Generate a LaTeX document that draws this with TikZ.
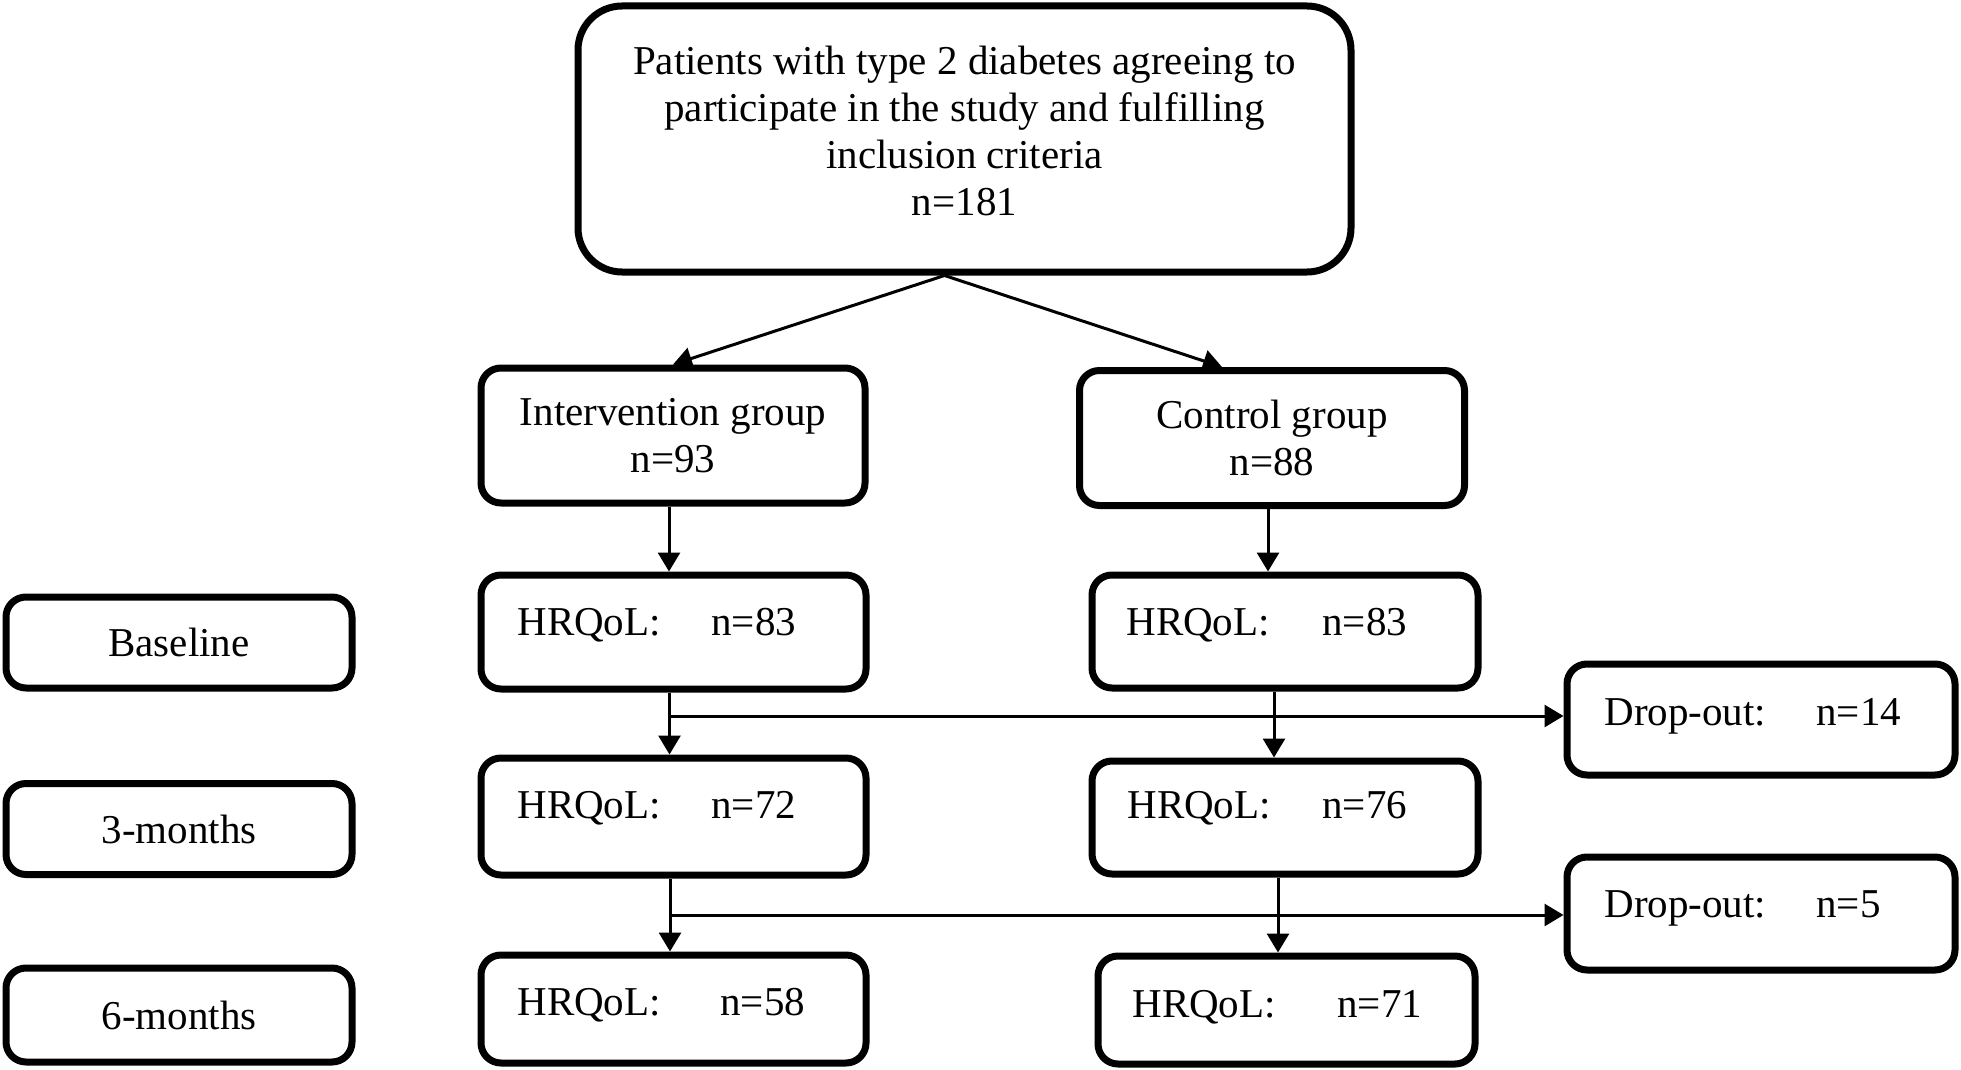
\documentclass[tikz,border=0pt]{standalone}
\usepackage{fontspec}
\setmainfont{Liberation Serif}
\usetikzlibrary{arrows.meta}
\begin{document}
\begin{tikzpicture}[x=0.5pt,y=-0.5pt,
  box/.style={draw, line width=3.5pt, rounded corners=10pt, inner sep=0pt, align=center, font=\fontsize{20.5}{23.5}\selectfont},
  txt/.style={inner sep=0pt, anchor=base west, font=\fontsize{20.5}{23.5}\selectfont},
  ctxt/.style={inner sep=0pt, align=center, font=\fontsize{20.5}{23.5}\selectfont},
  arr/.style={line width=1.5pt, -{Triangle[length=9.5pt,width=11pt]}},
  ln/.style={line width=1.5pt}]
\useasboundingbox (0,0) rectangle (1961,1070);

% boxes
\node[box, minimum width=386.5pt, minimum height=133pt, rounded corners=22pt] (top) at (964.5,139) {};
\node[ctxt] (toptxt) at (964.5,131) {Patients with type 2 diabetes agreeing to\\participate in the study and fulfilling\\inclusion criteria\\n=181};

\node[box, minimum width=192pt, minimum height=67.5pt] (int) at (673,435.5) {Intervention group\\n=93};
\node[box, minimum width=192.5pt, minimum height=67.5pt] (ctrl) at (1272,438) {Control group\\n=88};

\node[box, minimum width=173pt, minimum height=45.5pt] (base) at (179,642.5) {Baseline};
\node[box, minimum width=173pt, minimum height=45.5pt] (m3) at (179,829) {3-months};
\node[box, minimum width=173pt, minimum height=47pt] (m6) at (179,1015) {6-months};

\node[box, minimum width=192.5pt, minimum height=57pt] (i1) at (673.5,632) {};
\node[box, minimum width=192.5pt, minimum height=58.5pt] (i2) at (673.5,816.5) {};
\node[box, minimum width=192.5pt, minimum height=54pt] (i3) at (673.5,1009) {};
\node[box, minimum width=193pt, minimum height=56.5pt] (c1) at (1285,631.5) {};
\node[box, minimum width=193pt, minimum height=56.5pt] (c2) at (1285,817.5) {};
\node[box, minimum width=188.5pt, minimum height=54pt] (c3) at (1286.5,1010) {};
\node[box, minimum width=194pt, minimum height=55.5pt] (d1) at (1761,719.5) {};
\node[box, minimum width=194pt, minimum height=56.5pt] (d2) at (1761,913.5) {};

% box texts
\node[txt] (i1a) at (517,635) {HRQoL:};
\node[txt] (i1b) at (711,635) {n=83};
\node[txt] (i2a) at (517,818) {HRQoL:};
\node[txt] (i2b) at (711,818) {n=72};
\node[txt] (i3a) at (517,1015) {HRQoL:};
\node[txt] (i3b) at (720,1015) {n=58};
\node[txt] (c1a) at (1126,635) {HRQoL:};
\node[txt] (c1b) at (1322,635) {n=83};
\node[txt] (c2a) at (1127,818) {HRQoL:};
\node[txt] (c2b) at (1322,818) {n=76};
\node[txt] (c3a) at (1132,1017) {HRQoL:};
\node[txt] (c3b) at (1337,1017) {n=71};
\node[txt] (d1a) at (1604,725) {Drop-out:};
\node[txt] (d1b) at (1816,725) {n=14};
\node[txt] (d2a) at (1604,917) {Drop-out:};
\node[txt] (d2b) at (1816,917) {n=5};

% connectors
\coordinate (apex) at ([xshift=-10pt]top.south);
\draw[arr] (apex) -- (int.north);
\draw[arr] (apex) -- ([xshift=-25pt]ctrl.north);

\draw[arr] ([xshift=-2pt]int.south) -- ([xshift=-2pt]int.south |- i1.north);
\draw[arr] ([xshift=-2pt]ctrl.south) -- ([xshift=-2pt]ctrl.south |- c1.north);

\draw[arr] ([xshift=-2pt]i1.south) -- ([xshift=-2pt]i1.south |- i2.north);
\draw[arr] ([xshift=-5.5pt]c1.south) -- ([xshift=-5.5pt]c1.south |- c2.north);
\coordinate (h1) at ([yshift=1.75pt]d1.west);
\draw[arr] ([xshift=-2pt]i1.south |- h1) -- (h1);

\draw[arr] ([xshift=-1.75pt]i2.south) -- ([xshift=-1.75pt]i2.south |- i3.north);
\draw[arr] ([xshift=-3.5pt]c2.south) -- ([xshift=-3.5pt]c2.south |- c3.north);
\coordinate (h2) at ([yshift=-0.75pt]d2.west);
\draw[arr] ([xshift=-1.75pt]i2.south |- h2) -- (h2);
\end{tikzpicture}
\end{document}
